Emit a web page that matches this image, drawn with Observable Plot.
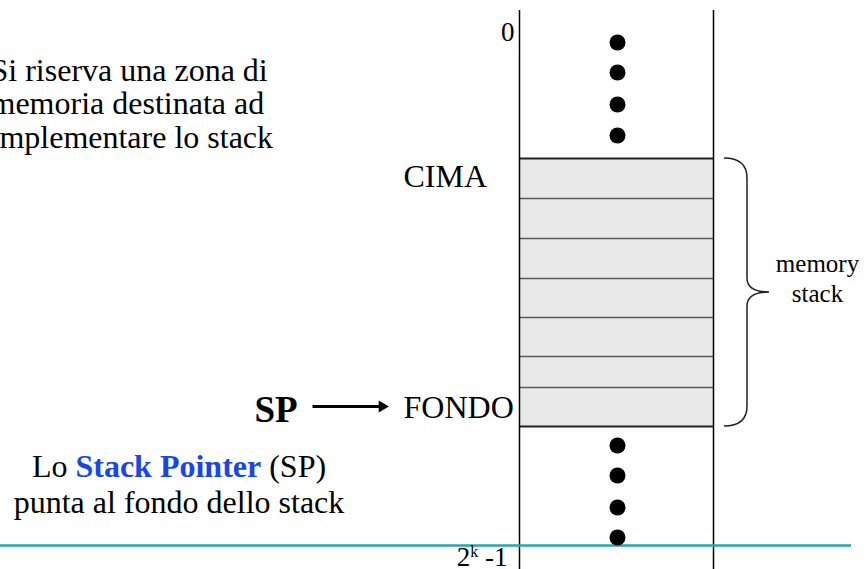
<!DOCTYPE html>
<html>
<head>
<meta charset="utf-8">
<script src="https://cdn.jsdelivr.net/npm/d3@7"></script>
<script src="https://cdn.jsdelivr.net/npm/@observablehq/plot@0.6"></script>
<style>
  html, body { margin: 0; padding: 0; background: #fff; }
  #chart { width: 868px; height: 569px; overflow: hidden; }
</style>
</head>
<body>
<div id="chart"></div>
<script>
// ---- data (diagram units: 1 unit = 1 px of the slide) ----
const introLines = ["Si riserva una zona di", "memoria destinata ad", "implementare lo stack"];
const noteLines = ["Lo Stack Pointer (SP)", "punta al fondo dello stack"];
const noteHighlight = "Stack Pointer";
const addressLabels = ["0", "2k -1"];          // first / last address
const stackLabels = ["CIMA", "FONDO"];          // top / bottom of the stack
const pointerLabel = "SP";
const braceLabel = ["memory", "stack"];
const stackEdges = [158, 198, 238, 278, 317, 356, 387, 426];   // slot boundaries
const dotsAbove = [42, 72, 104, 135];
const dotsBelow = [445, 475, 507, 537];

// ---- layout constants ----
const W = 868, H = 569;
const memLeft = 519, memRight = 713, memTop = 10, dotX = 617;
const serif = "Liberation Serif, Times New Roman, serif";

const cells = d3.pairs(stackEdges).map(([a, b]) => ({top: a, bottom: b}));
const innerEdges = stackEdges.slice(1, -1);
const outerEdges = [stackEdges[0], stackEdges[stackEdges.length - 1]];

function braceMark(index, scales) {
  const sx = scales.x ?? (v => v), sy = scales.y ?? (v => v);
  const x0 = sx(724), x1 = sx(747), x2 = sx(769);
  const y0 = sy(stackEdges[0]), y1 = sy(stackEdges[stackEdges.length - 1]);
  const ym = (y0 + y1) / 2, r = 20, rm = 14;
  const p = d3.path();
  p.moveTo(x0, y0);
  p.quadraticCurveTo(x1, y0, x1, y0 + r);
  p.lineTo(x1, ym - rm);
  p.quadraticCurveTo(x1, ym, x2, ym);
  p.quadraticCurveTo(x1, ym, x1, ym + rm);
  p.lineTo(x1, y1 - r);
  p.quadraticCurveTo(x1, y1, x0, y1);
  const path = document.createElementNS("http://www.w3.org/2000/svg", "path");
  path.setAttribute("d", p.toString());
  path.setAttribute("fill", "none");
  path.setAttribute("stroke", "#222");
  path.setAttribute("stroke-width", "1.5");
  const g = document.createElementNS("http://www.w3.org/2000/svg", "g");
  g.appendChild(path);
  return g;
}

const chart = Plot.plot({
  width: W, height: H, margin: 0,
  x: {domain: [0, W], range: [0, W], axis: null},
  y: {domain: [0, H], range: [0, H], axis: null},
  style: {background: "#fff", fontFamily: serif},
  marks: [
    Plot.rect(cells, {x1: memLeft, x2: memRight, y1: "top", y2: "bottom", fill: "#e9e9e9"}),
    Plot.ruleY(innerEdges, {x1: memLeft, x2: memRight, stroke: "#5a5a5a", strokeWidth: 1.3}),
    Plot.ruleY(outerEdges, {x1: memLeft, x2: memRight, stroke: "#222", strokeWidth: 2}),
    Plot.ruleX([memLeft, memRight], {y1: memTop, y2: H, stroke: "#000", strokeWidth: 1.5}),
    Plot.ruleY([545], {x1: 0, x2: 851, stroke: "#2aa6a6", strokeWidth: 2.5}),
    Plot.dot(dotsAbove, {x: dotX, y: d => d, r: 8, fill: "#000"}),
    Plot.dot(dotsBelow, {x: dotX, y: d => d, r: 8, fill: "#000"}),
    // texts
    Plot.text([introLines.join("\n")], {x: -10, y: 147, text: d => d, textAnchor: "start", lineAnchor: "bottom", lineHeight: 1.04, fontSize: 32, fontFamily: serif, fill: "#000"}),
    Plot.text([noteLines[0]], {x: 178.5, y: 476.5, text: d => d, textAnchor: "middle", lineAnchor: "bottom", fontSize: 32, fontFamily: serif, fill: "#000"}),
    Plot.text([noteLines[1]], {x: 178.5, y: 512, text: d => d, textAnchor: "middle", lineAnchor: "bottom", fontSize: 32, fontFamily: serif, fill: "#000"}),
    Plot.text([stackLabels[0]], {x: 403, y: 186, text: d => d, textAnchor: "start", lineAnchor: "bottom", fontSize: 32, fontFamily: serif, fill: "#000"}),
    Plot.text([stackLabels[1]], {x: 403, y: 417.5, text: d => d, textAnchor: "start", lineAnchor: "bottom", fontSize: 32, fontFamily: serif, fill: "#000"}),
    Plot.text([addressLabels[0]], {x: 514, y: 40.5, text: d => d, textAnchor: "end", lineAnchor: "bottom", fontSize: 27, fontFamily: serif, fill: "#000"}),
    Plot.text([addressLabels[1]], {x: 507, y: 565, text: d => d, textAnchor: "end", lineAnchor: "bottom", fontSize: 27, fontFamily: serif, fill: "#000"}),
    Plot.text([pointerLabel], {x: 254, y: 421, text: d => d, textAnchor: "start", lineAnchor: "bottom", fontSize: 37, fontWeight: "bold", fontFamily: serif, fill: "#000"}),
    Plot.text([braceLabel.join("\n")], {x: 817, y: 301.5, text: d => d, textAnchor: "middle", lineAnchor: "bottom", lineHeight: 1.2, fontSize: 25, fontFamily: serif, fill: "#000"}),
    // arrow SP -> FONDO
    Plot.link([pointerLabel], {x1: 312, x2: 383, y1: 406, y2: 406, stroke: "#000", strokeWidth: 2.8}),
    Plot.dot([pointerLabel], {x: 381.6, y: 406, symbol: "triangle", r: 4.4, rotate: 90, fill: "#000", stroke: "none"}),
    braceMark
  ]
});

// rich text: bold blue highlight and superscript
const NS = "http://www.w3.org/2000/svg";
chart.querySelectorAll("text").forEach(t => {
  const s = t.textContent;
  if (s === noteLines[0]) {
    const i = s.indexOf(noteHighlight);
    const parts = [[s.slice(0, i), null], [noteHighlight, "hl"], [s.slice(i + noteHighlight.length), null]];
    t.textContent = "";
    for (const [txt, kind] of parts) {
      const ts = document.createElementNS(NS, "tspan");
      ts.textContent = txt;
      if (kind) { ts.setAttribute("font-weight", "bold"); ts.setAttribute("fill", "#1a46e4"); }
      t.appendChild(ts);
    }
    t.setAttribute("xml:space", "preserve");
    t.style.whiteSpace = "pre";
  } else if (s === addressLabels[1]) {
    t.textContent = "";
    const a = document.createElementNS(NS, "tspan"); a.textContent = "2";
    const b = document.createElementNS(NS, "tspan"); b.textContent = "k";
    b.setAttribute("font-size", "16"); b.setAttribute("dy", "-9");
    const c = document.createElementNS(NS, "tspan"); c.textContent = " -1"; c.setAttribute("dy", "9");
    t.append(a, b, c);
    t.style.whiteSpace = "pre";
  }
});

document.getElementById("chart").appendChild(chart);
</script>
</body>
</html>
